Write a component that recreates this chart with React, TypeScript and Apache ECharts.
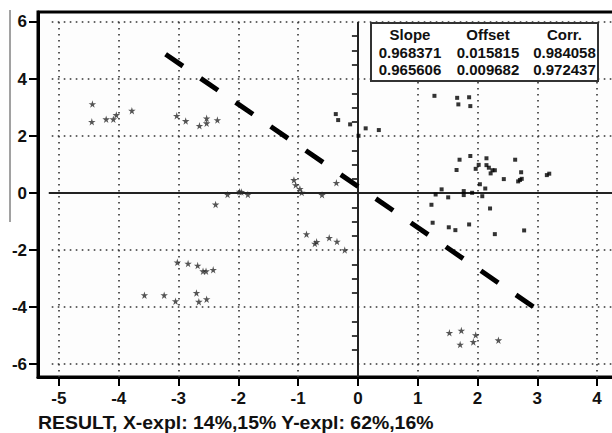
import React, { useEffect, useRef } from "react";
import * as echarts from "echarts";

const FONT = "'Liberation Sans', Arial, sans-serif";

const xMin = -5.35;
const xMax = 4.4;
const yMin = -6.45;
const yMax = 6.35;

const xTickValues = [-5, -4, -3, -2, -1, 0, 1, 2, 3, 4];
const yTickValues = [-6, -4, -2, 0, 2, 4, 6];
const yMinorTickValues = [-5.5, -5, -4.5, -3.5, -3, -2.5, -1.5, -1, -0.5, 0.5, 1, 1.5, 2.5, 3, 3.5, 4.5, 5, 5.5];
const xGridValues = [-5, -4, -3, -2, -1, 1, 2, 3, 4];
const yGridValues = [-6, -4, -2, 2, 4, 6];

const starPoints: number[][] = [
  [-4.44, 3.12], [-4.45, 2.5], [-4.21, 2.59], [-4.09, 2.59], [-4.04, 2.74], [-3.78, 2.89],
  [-3.03, 2.71], [-2.88, 2.53], [-2.65, 2.36], [-2.53, 2.62], [-2.53, 2.45], [-2.35, 2.56],
  [-2.38, -0.4], [-2.18, -0.05], [-1.98, 0.05], [-1.95, 0.04], [-1.84, -0.05],
  [-1.07, 0.46], [-1.04, 0.28], [-0.97, 0.15], [-0.94, 0.02], [-0.6, -0.06], [-0.36, 0.36],
  [-0.86, -1.44], [-0.72, -1.77], [-0.69, -1.71], [-0.48, -1.57], [-0.35, -1.7], [-0.22, -2.0],
  [-3.02, -2.43], [-2.84, -2.47], [-2.68, -2.54], [-2.59, -2.74], [-2.54, -2.74], [-2.42, -2.69],
  [-3.57, -3.58], [-3.24, -3.58], [-3.05, -3.79], [-2.7, -3.5], [-2.66, -3.81], [-2.53, -3.72],
  [1.53, -4.9], [1.73, -4.82], [1.97, -4.98], [1.93, -5.22], [1.71, -5.31], [2.35, -5.16],
];

const squarePoints: number[][] = [
  [-0.37, 2.77], [-0.33, 2.56], [-0.13, 2.41], [0.13, 2.27], [0.35, 2.21], [0.01, 2.01],
  [1.28, 3.41], [1.66, 3.34], [1.86, 3.36], [1.68, 3.11], [1.88, 3.05],
  [1.23, -0.41], [1.3, -0.05], [1.4, 0.13], [1.51, -0.15], [1.65, 0.81], [1.7, 1.17],
  [1.77, 0.07], [1.77, -0.07], [1.88, 1.3], [1.91, 0.01], [1.97, 0.85], [2.02, 0.99],
  [2.04, 0.31], [2.08, -0.11], [2.13, 0.16], [2.15, 0.98], [2.15, 1.22], [2.19, 0.89],
  [2.22, 0.69], [2.25, 0.8], [2.29, 0.8], [2.21, -0.54], [2.44, 0.49], [2.63, 1.17],
  [2.68, 0.41], [2.71, 0.46], [2.74, 0.5], [2.73, 0.73], [3.16, 0.63], [3.2, 0.68],
  [1.25, -1.04], [1.52, -1.2], [1.63, -1.3], [1.86, -1.1], [2.29, -1.44], [2.78, -1.31],
];

const regressionLine: number[][] = [[-3.216, 4.867], [3.015, -4.105]];

const tableHeaders = ["Slope", "Offset", "Corr."];
const tableRow1 = ["0.968371", "0.015815", "0.984058"];
const tableRow2 = ["0.965606", "0.009682", "0.972437"];

const titleText = "RESULT, X-expl: 14%,15% Y-expl: 62%,16%";

const STAR =
  "path://M50,0 L61,35 L98,35 L68,57 L79,91 L50,70 L21,91 L32,57 L2,35 L39,35 Z";

export default function App() {
  const ref = useRef<HTMLDivElement>(null);
  useEffect(() => {
    if (!ref.current) return;
    const chart = echarts.init(ref.current, null, { renderer: "svg" });

    const dotted = { color: "#333", width: 1.6, type: [1.6, 4.4] as any };
    const solid = { color: "#222", width: 2, type: "solid" as any };
    const gridLines: any[] = [];
    yGridValues.forEach((v) =>
      gridLines.push([{ coord: [-5.12, v], lineStyle: dotted }, { coord: [xMax, v] }])
    );
    xGridValues.forEach((v) =>
      gridLines.push([{ coord: [v, 6], lineStyle: dotted }, { coord: [v, yMin] }])
    );
    gridLines.push([{ coord: [-5.17, 0], lineStyle: solid }, { coord: [xMax, 0] }]);
    gridLines.push([{ coord: [0, 6], lineStyle: solid }, { coord: [0, yMin] }]);

    const colCenters = [410, 488, 564.5];
    const tableTexts: any[] = [];
    [tableHeaders, tableRow1, tableRow2].forEach((row, ri) => {
      row.forEach((t, ci) => {
        tableTexts.push({
          type: "text",
          z: 101,
          x: colCenters[ci],
          y: [34, 52, 69][ri],
          style: {
            text: t,
            fill: "#111",
            font: `bold 15px ${FONT}`,
            textAlign: "center",
            textVerticalAlign: "middle",
          },
        });
      });
    });

    chart.setOption({
      animation: false,
      backgroundColor: "#fff",
      grid: {
        left: 38,
        top: 12,
        right: 9,
        bottom: 56,
        show: true,
        borderColor: "#000",
        borderWidth: 3,
        backgroundColor: "#fdfdfd",
      },
      xAxis: {
        type: "value",
        min: xMin,
        max: xMax,
        axisLine: { show: true, onZero: false, lineStyle: { color: "#000", width: 3 } },
        axisTick: {
          show: true,
          customValues: xTickValues,
          length: 9,
          lineStyle: { color: "#000", width: 2 },
        },
        axisLabel: {
          customValues: xTickValues,
          fontSize: 17,
          fontWeight: "bold",
          fontFamily: FONT,
          color: "#111",
          margin: 13,
        },
        splitLine: { show: false },
      },
      yAxis: [
        {
          type: "value",
          min: yMin,
          max: yMax,
          axisLine: { show: true, onZero: false, lineStyle: { color: "#000", width: 3 } },
          axisTick: {
            show: true,
            customValues: yTickValues,
            length: 9,
            lineStyle: { color: "#000", width: 2 },
          },
          axisLabel: {
            customValues: yTickValues,
            fontSize: 17,
            fontWeight: "bold",
            fontFamily: FONT,
            color: "#111",
            margin: 11,
          },
          splitLine: { show: false },
        },
        {
          type: "value",
          min: yMin,
          max: yMax,
          position: "left",
          axisLine: { show: false },
          axisTick: {
            show: true,
            customValues: yMinorTickValues,
            length: 6,
            lineStyle: { color: "#000", width: 1.5 },
          },
          axisLabel: { show: false },
          splitLine: { show: false },
        },
      ],
      series: [
        {
          type: "scatter",
          data: [],
          silent: true,
          markLine: {
            silent: true,
            symbol: ["none", "none"],
            label: { show: false },
            animation: false,
            data: gridLines,
          },
        },
        {
          name: "stars",
          type: "scatter",
          data: starPoints,
          symbol: STAR,
          symbolSize: 7.5,
          itemStyle: { color: "#2a2a2a" },
          z: 5,
        },
        {
          name: "squares",
          type: "scatter",
          data: squarePoints,
          symbol: "rect",
          symbolSize: 4,
          itemStyle: { color: "#000" },
          z: 5,
        },
        {
          name: "regression",
          type: "line",
          data: regressionLine,
          showSymbol: false,
          symbol: "none",
          lineStyle: { color: "#000", width: 5, type: [21, 21.5], cap: "butt" },
          z: 6,
        },
      ],
      graphic: [
        {
          type: "line",
          z: 100,
          shape: { x1: 10, y1: 10, x2: 10, y2: 222 },
          style: { stroke: "#444", lineWidth: 1 },
        },
        {
          type: "rect",
          z: 100,
          shape: { x: 371, y: 23, width: 227, height: 58 },
          style: { fill: "#fff", stroke: "#333", lineWidth: 2 },
        },
        ...tableTexts,
        {
          type: "text",
          z: 100,
          x: 38,
          y: 423,
          scaleX: 1.08,
          style: {
            text: titleText,
            fill: "#111",
            font: `bold 18px ${FONT}`,
            textVerticalAlign: "middle",
          },
        },
      ],
    });
    return () => chart.dispose();
  }, []);
  return (
    <div style={{ position: "absolute", left: 0, top: 0, width: 612, height: 433, overflow: "hidden" }}>
      <div ref={ref} style={{ width: 630, height: 433 }} />
    </div>
  );
}
